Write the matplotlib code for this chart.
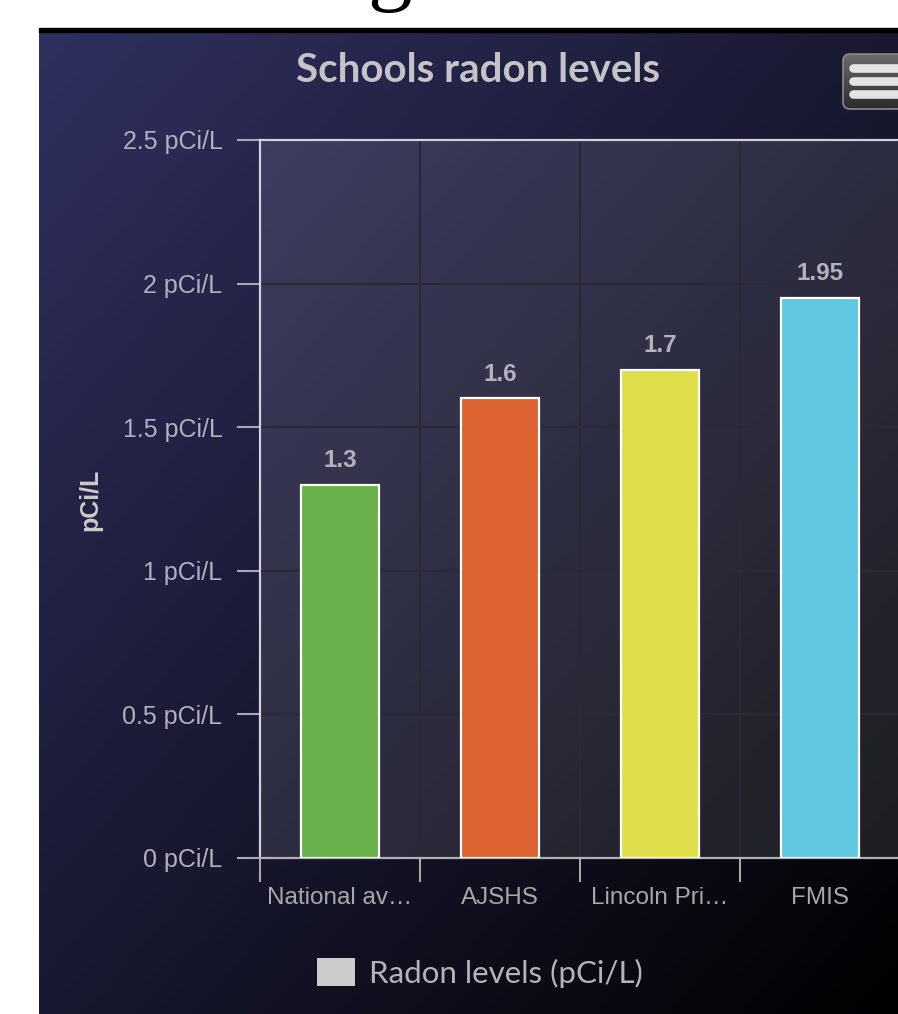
import numpy as np
import matplotlib
matplotlib.use("Agg")
import matplotlib.pyplot as plt
from matplotlib.patches import Patch, Rectangle, FancyBboxPatch

# ---- data -------------------------------------------------------------
categories = ["National av…", "AJSHS", "Lincoln Pri…", "FMIS"]
values = [1.3, 1.6, 1.7, 1.95]
bar_colors = ["#6ab04a", "#dc6232", "#dfdf4b", "#5fc8e0"]
y_ticks = [0, 0.5, 1, 1.5, 2, 2.5]
y_tick_labels = [f"{t:g} pCi/L" for t in y_ticks]
series_name = "Radon levels (pCi/L)"
chart_title = "Schools radon levels"
y_title = "pCi/L"

# ---- figure -----------------------------------------------------------
W, H = 898, 1014
fig = plt.figure(figsize=(W / 100, H / 100), dpi=100, facecolor="white")

# pixel-space canvas for the chart panel and decorations
bg = fig.add_axes([0, 0, 1, 1], zorder=0)
bg.axis("off")

# diagonal gradient panel: rgb(48,48,96) -> black
cx0, cx1, cy0, cy1 = 39, 918, 32, 1022
u = np.linspace(0, 1, 500)[None, :]
v = np.linspace(0, 1, 500)[:, None]
t = ((u + v) / 2)[..., None]
c0 = np.array([48, 48, 96]) / 255
img = c0 * (1 - t)
bg.imshow(img, extent=[cx0, cx1, cy1, cy0], origin="upper",
          aspect="auto", interpolation="bilinear", zorder=0)
bg.add_patch(Rectangle((39, 28), W - 39, 4, color="black", zorder=1))

# stray heading glyph above the panel
bg.text(389, -6, "g", family="Liberation Serif", fontsize=64,
        ha="center", va="baseline", color="black", zorder=1)

# menu button
btn = FancyBboxPatch((843, 54), 70, 55,
                     boxstyle="round,pad=0,rounding_size=7",
                     facecolor="none", edgecolor="#8a8a8a", lw=1.2, zorder=3)
bg.add_patch(btn)
gv = np.linspace(0, 1, 100)[:, None, None]
btn_img = np.array([0.42, 0.42, 0.42]) * (1 - gv) + np.array([0.17, 0.17, 0.17]) * gv
btn_img = np.repeat(btn_img, 2, axis=1)
bi = bg.imshow(btn_img, extent=[843, 913, 109, 54], origin="upper",
               aspect="auto", zorder=2)
bi.set_clip_path(btn)
for yy in (68, 81, 94):
    bg.plot([853, 905], [yy, yy], color="#e4e4e4", lw=6.2,
            solid_capstyle="round", zorder=4)

bg.set_xlim(0, W)
bg.set_ylim(H, 0)

# ---- plot area --------------------------------------------------------
left_px, right_px, top_px, bottom_px = 260, 900, 140, 858
ax = fig.add_axes([left_px / W, (H - bottom_px) / H,
                   (right_px - left_px) / W, (bottom_px - top_px) / H], zorder=2)
ax.patch.set_facecolor((1, 1, 1, 0.1))

x = np.arange(len(categories))
bars = ax.bar(x, values, width=0.49, color=bar_colors,
              edgecolor="white", linewidth=1.6, zorder=3)
ax.set_xlim(-0.5, len(categories) - 0.5)
ax.set_ylim(0, 2.5)

ax.bar_label(bars, labels=[f"{val:g}" for val in values], padding=9,
             color="#b2b2ba", fontsize=17.5, fontweight="bold",
             family="Liberation Sans")

# y axis
ax.set_yticks(y_ticks)
ax.set_yticklabels(y_tick_labels, family="Liberation Sans")
ax.tick_params(axis="y", length=16.5, width=1.5, color="#a8a8b8",
               pad=10.5, labelsize=18, labelcolor="#b0b0c0")
ax.yaxis.grid(True, color="#2a2a36", lw=1.6, zorder=1)

# x axis: labels centred, ticks and grid on category boundaries
ax.set_xticks(x)
ax.set_xticklabels(categories, family="Liberation Sans")
ax.set_xticks(np.arange(-0.5, len(categories)), minor=True)
ax.tick_params(axis="x", which="major", length=0, pad=21,
               labelsize=17.5, labelcolor="#a8a8a8")
ax.tick_params(axis="x", which="minor", length=17, width=1.5,
               color="#a8a8a8")
ax.xaxis.grid(True, which="minor", color="#2a2a36", lw=1.6, zorder=1)
ax.set_axisbelow(True)

for side in ("top", "left"):
    ax.spines[side].set_color("#d0d0dc")
    ax.spines[side].set_linewidth(1.6)
ax.spines["bottom"].set_color("#b0b0b4")
ax.spines["bottom"].set_linewidth(1.6)
ax.spines["right"].set_visible(False)

# ---- titles and legend ------------------------------------------------
fig.text(478 / W, 1 - 70 / H, chart_title, ha="center", va="center",
         fontsize=29, fontweight="bold", color="#c4c4c8", family="Lato")
fig.text(90 / W, 1 - 500 / H, y_title, ha="center", va="center",
         rotation=90, fontsize=18, fontweight="bold", color="#cccccc",
         family="Liberation Sans")

fig.legend(handles=[Patch(facecolor="#cccccc", edgecolor="none", label=series_name)],
           loc="center", bbox_to_anchor=(480 / W, 41 / H), frameon=False,
           labelcolor="#b4b4b8", prop={"family": "Lato", "size": 22.5},
           handlelength=1.2, handleheight=1.0, handletextpad=0.45)

fig.savefig("out.png", dpi=100, facecolor="white")
